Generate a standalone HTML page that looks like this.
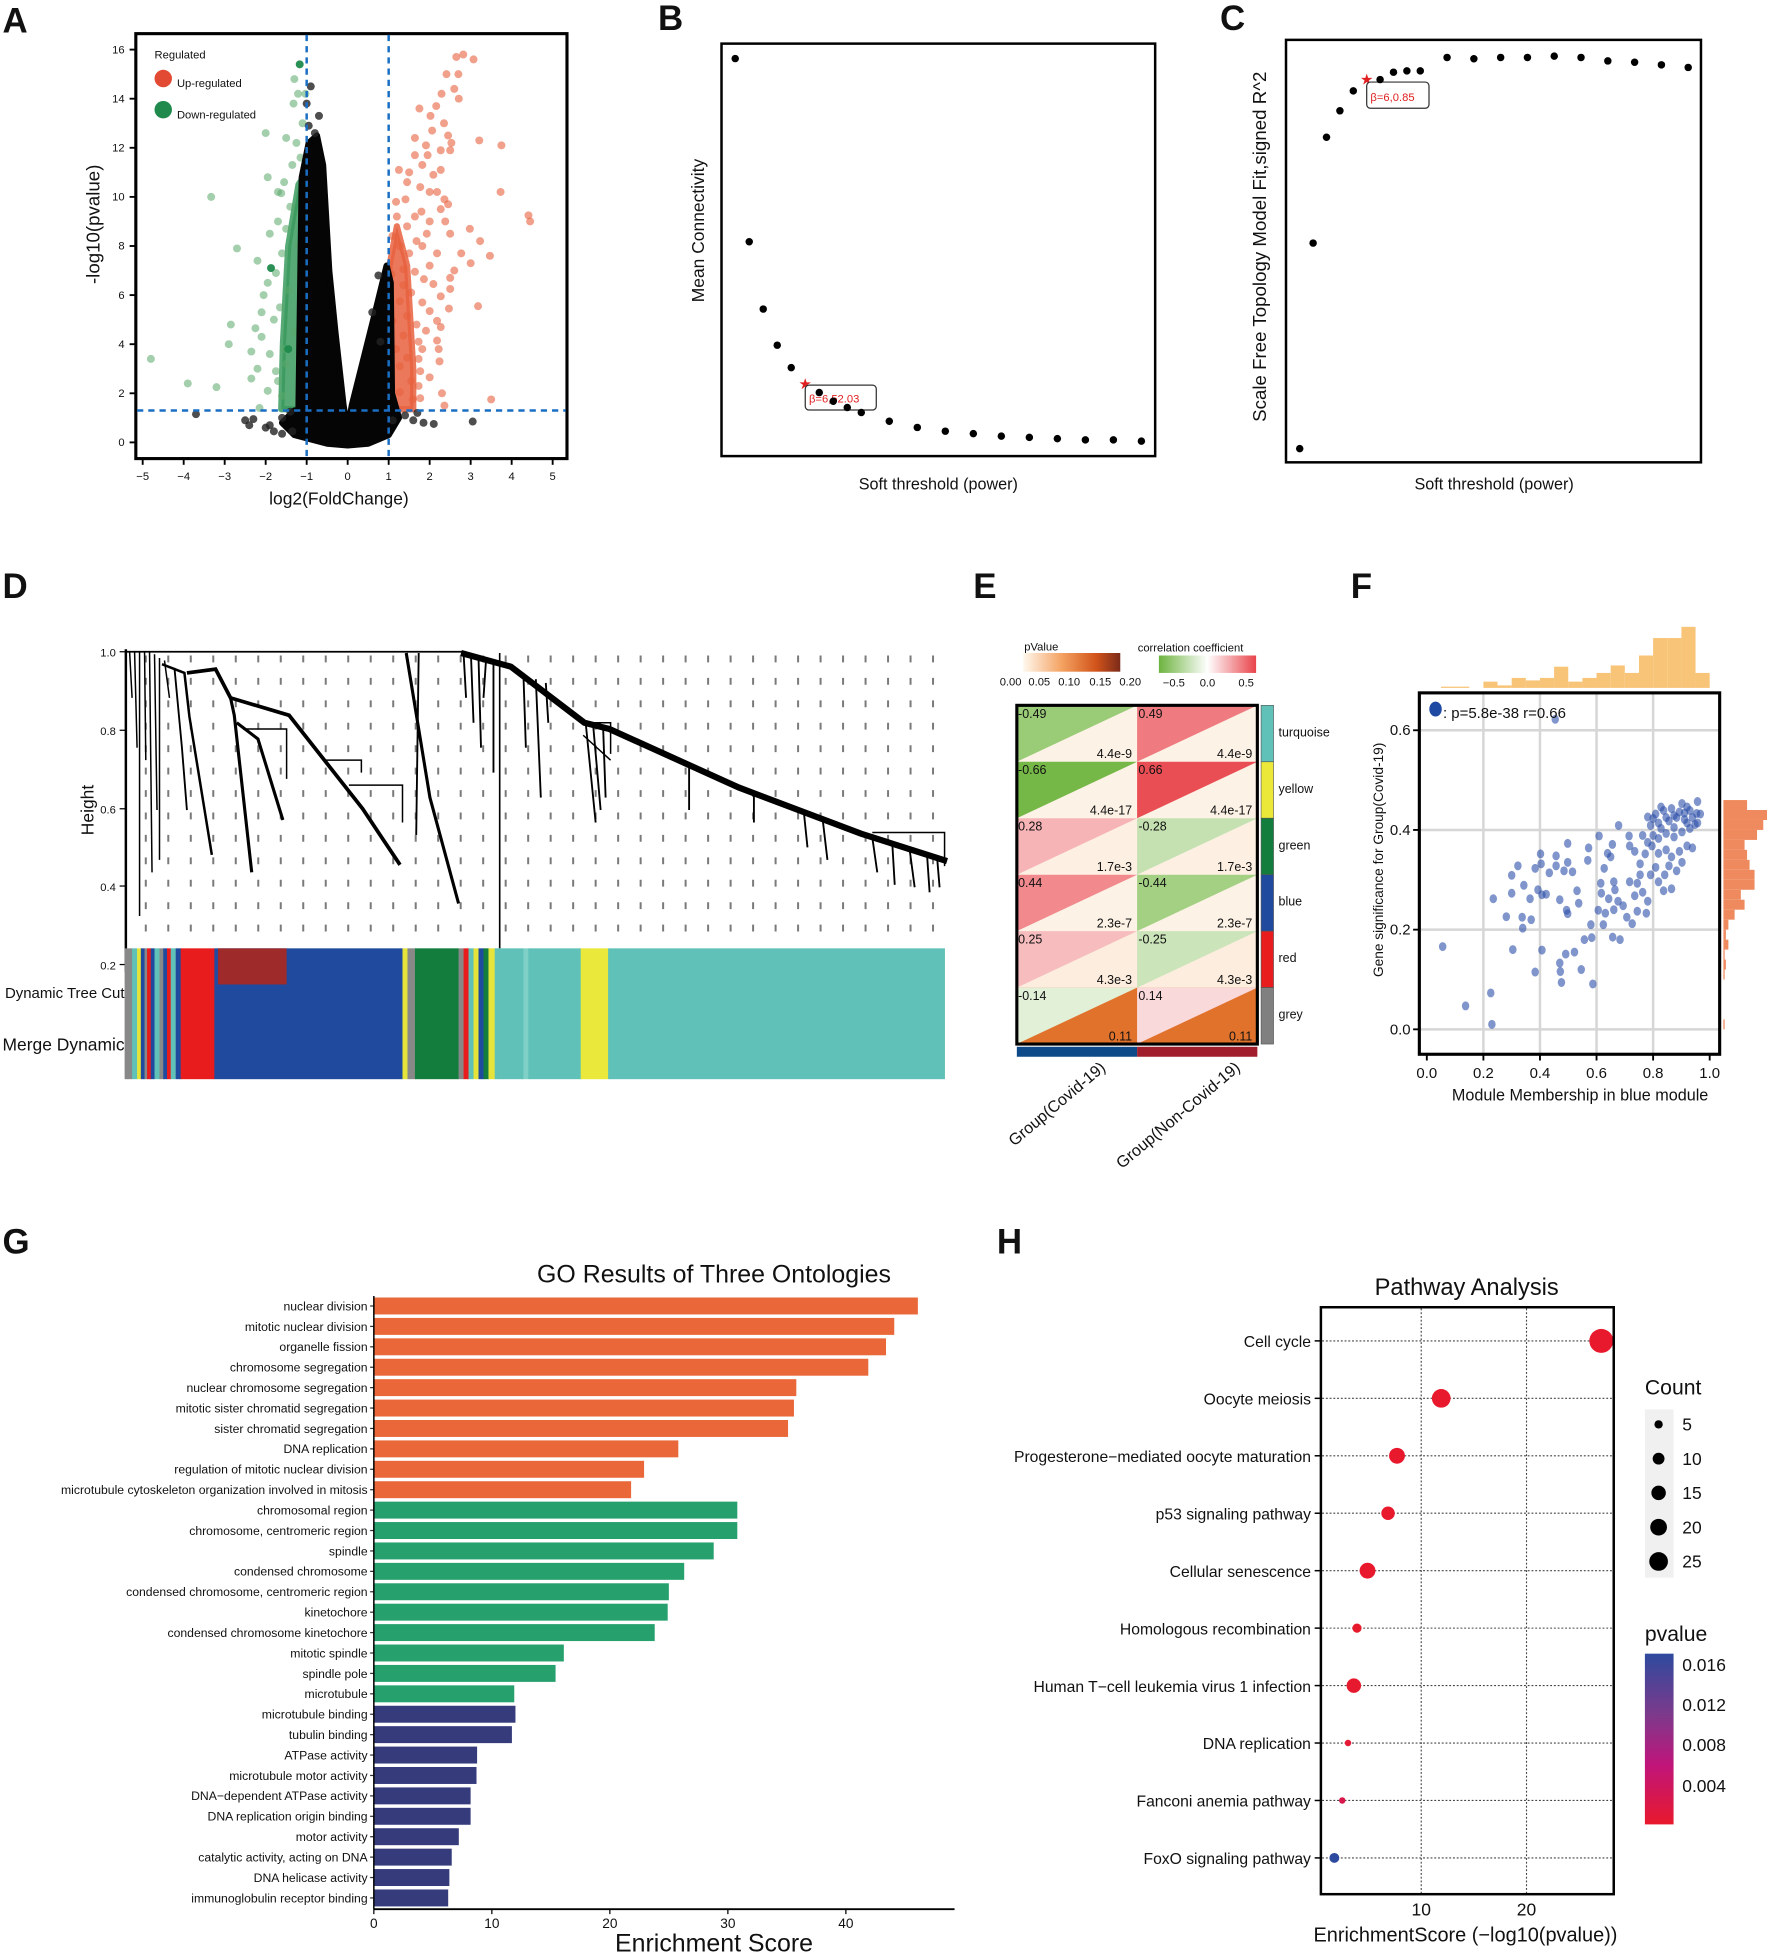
<!DOCTYPE html>
<html><head><meta charset="utf-8"><title>Figure</title>
<style>
html,body{margin:0;padding:0;background:#fff;}
svg{display:block;}
text{font-family:"Liberation Sans",sans-serif;fill:#111;}
.n{font-family:"Liberation Sans Narrow","Liberation Sans",sans-serif;}
.pl{font-weight:bold;font-size:28px;}
</style></head>
<body>
<svg id="fig" xmlns="http://www.w3.org/2000/svg" width="1772" height="1954" viewBox="0 0 1422 1568" preserveAspectRatio="none">
<rect x="0" y="0" width="1422" height="1568" fill="#fff"/>

<text class="pl" x="2" y="26">A</text>
<text class="pl" x="528" y="24">B</text>
<text class="pl" x="979" y="24">C</text>
<text class="pl" x="2" y="480">D</text>
<text class="pl" x="781" y="480">E</text>
<text class="pl" x="1084" y="480">F</text>
<text class="pl" x="2" y="1006">G</text>
<text class="pl" x="800" y="1006">H</text>

<g id="pa">
  <rect x="109" y="27" width="346" height="341" fill="none" stroke="#000" stroke-width="2.5"/>
  <text x="124" y="47" font-size="9">Regulated</text>
  <circle cx="131" cy="63" r="7" fill="#e24a33"/>
  <text x="142" y="70" font-size="9">Up-regulated</text>
  <circle cx="131" cy="88" r="7" fill="#1f8a4c"/>
  <text x="142" y="95" font-size="9">Down-regulated</text>
  <text x="272" y="405" font-size="14" text-anchor="middle">log2(FoldChange)</text>
  <text transform="translate(80,180) rotate(-90)" font-size="15" text-anchor="middle">-log10(pvalue)</text>
</g>

<g>
  <rect x="579" y="35" width="348" height="331" fill="none" stroke="#000" stroke-width="2"/>
  <text transform="translate(565,185) rotate(-90)" font-size="14" text-anchor="middle">Mean Connectivity</text>
  <text x="753" y="393" font-size="13" text-anchor="middle">Soft threshold (power)</text>
</g>
<g id="pb"></g>

<g>
  <rect x="1032" y="32" width="333" height="339" fill="none" stroke="#000" stroke-width="2"/>
  <text transform="translate(1016,198) rotate(-90)" font-size="15" text-anchor="middle">Scale Free Topology Model Fit,signed R^2</text>
  <text x="1199" y="393" font-size="13" text-anchor="middle">Soft threshold (power)</text>
</g>
<g id="pc"></g>

<g id="pd">
  <g id="dgrid" stroke="#7a7a7a" stroke-width="1.6" stroke-dasharray="5.5 12.5"></g>
  <line x1="101" y1="521" x2="101" y2="780" stroke="#000" stroke-width="2"/>
  <g stroke="#000" stroke-width="1">
    <line x1="96" y1="523" x2="101" y2="523"/><line x1="96" y1="586" x2="101" y2="586"/><line x1="96" y1="649" x2="101" y2="649"/><line x1="96" y1="711" x2="101" y2="711"/><line x1="96" y1="774" x2="101" y2="774"/>
  </g>
  <g font-size="9" text-anchor="end" class="n">
    <text x="93" y="527">1.0</text><text x="93" y="590">0.8</text><text x="93" y="653">0.6</text><text x="93" y="715">0.4</text><text x="93" y="778">0.2</text>
  </g>
  <text transform="translate(75,650) rotate(-90)" font-size="14" text-anchor="middle">Height</text>
  <g fill="none" stroke="#000">
    <line x1="101" y1="523" x2="371" y2="523" stroke-width="1.5"/>
    <path d="M101 523 L101 540 M104 523 L106 560 M108 523 L110 600 M112 523 L112 735 M116 523 L117 610 M120 523 L122 700 M124 525 L126 650 M128 528 L128 690 M132 530 L136 560" stroke-width="1.2"/>
    <path d="M130 533 L148 540 L152 575 L170 686" stroke-width="2"/>
    <path d="M140 536 L146 600 L150 650" stroke-width="1.5"/>
    <path d="M150 540 L173 537 L185 560 L232 574 L291 649 L321 694" stroke-width="3"/>
    <path d="M185 560 L188 574 L202 700" stroke-width="2.5"/>
    <path d="M190 580 L207 593 L227 658" stroke-width="2.5"/>
    <path d="M195 585 L230 585 L230 625" stroke-width="1.2"/>
    <path d="M260 610 L290 610 L290 620 M280 630 L323 630 L323 660" stroke-width="1.2"/>
    <path d="M326 524 L345 640 L368 725" stroke-width="2.5"/>
    <path d="M336 524 L334 670" stroke-width="1.5"/>
    <line x1="401" y1="524" x2="401" y2="761" stroke-width="1.3"/>
    <path d="M370 524 L410 535 L469 580 L489 585 L593 632 L691 669 L760 691" stroke-width="5"/>
    <path d="M372 524 L374 560 M378 527 L380 580 M384 528 L386 600 M390 530 L388 560 M396 532 L396 620 M420 540 L422 600 M430 545 L434 640 M438 548 L440 580 M470 580 L478 660 M476 582 L482 650 M484 584 L486 640 M553 615 L553 650 M605 636 L605 660 M645 651 L648 680 M660 656 L664 690 M700 672 L704 700 M716 676 L718 710 M730 682 L734 712 M744 687 L746 716 M752 688 L754 712" stroke-width="1.5"/>
    <path d="M470 580 L490 580 L490 605 M468 590 L490 610" stroke-width="1.2"/>
    <path d="M700 668 L758 668 L758 695" stroke-width="1.2"/>
  </g>
  <g id="dbars"></g>
  <text x="4" y="801" font-size="12" class="n">Dynamic Tree Cut</text>
  <text x="2" y="843" font-size="14" class="n">Merge Dynamic</text>
</g>

<defs>
  <linearGradient id="gp" x1="0" x2="1" y1="0" y2="0"><stop offset="0" stop-color="#fff8ee"/><stop offset="0.4" stop-color="#f4a261"/><stop offset="0.75" stop-color="#d2541a"/><stop offset="1" stop-color="#7b2a1a"/></linearGradient>
  <linearGradient id="gc" x1="0" x2="1" y1="0" y2="0"><stop offset="0" stop-color="#6db33f"/><stop offset="0.5" stop-color="#ffffff"/><stop offset="1" stop-color="#e8434a"/></linearGradient>
  <linearGradient id="gh" x1="0" x2="0" y1="0" y2="1"><stop offset="0" stop-color="#2e4a9e"/><stop offset="0.35" stop-color="#7b3a8c"/><stop offset="0.65" stop-color="#c0157a"/><stop offset="1" stop-color="#e8192c"/></linearGradient>
</defs>
<g>
  <text x="822" y="522" font-size="9">pValue</text>
  <rect x="821" y="524" width="78" height="15" fill="url(#gp)"/>
  <g font-size="9" text-anchor="middle" class="n">
    <text x="811" y="550">0.00</text><text x="834" y="550">0.05</text><text x="858" y="550">0.10</text><text x="883" y="550">0.15</text><text x="907" y="550">0.20</text>
  </g>
  <text x="913" y="523" font-size="9">correlation coefficient</text>
  <rect x="930" y="526" width="78" height="14" fill="url(#gc)"/>
  <g font-size="9" text-anchor="middle" class="n">
    <text x="942" y="551">−0.5</text><text x="969" y="551">0.0</text><text x="1000" y="551">0.5</text>
  </g>
  <g id="pe"></g>
  <text transform="translate(888,858) rotate(-40)" font-size="13" text-anchor="end">Group(Covid-19)</text>
  <text transform="translate(996,858) rotate(-40)" font-size="13" text-anchor="end">Group(Non-Covid-19)</text>
</g>

<g>
  <g id="pf"></g>
  <rect x="1139" y="556" width="241" height="290" fill="none" stroke="#000" stroke-width="2.5"/>
  <ellipse cx="1152" cy="569" rx="5" ry="6" fill="#1f4aa3"/>
  <text x="1158" y="576" font-size="12" class="n">: p=5.8e-38 r=0.66</text>
  <text transform="translate(1110,690) rotate(-90)" font-size="11" text-anchor="middle">Gene significance for Group(Covid-19)</text>
  <text x="1268" y="883" font-size="13" text-anchor="middle" class="n">Module Membership in blue module</text>
</g>

<g>
  <text x="573" y="1029" font-size="20" text-anchor="middle">GO Results of Three Ontologies</text>
  <g id="pg"></g>
  <line x1="300" y1="1040" x2="300" y2="1532" stroke="#000" stroke-width="1.2"/>
  <line x1="300" y1="1532" x2="766" y2="1532" stroke="#000" stroke-width="1.5"/>
  <text x="573" y="1566" font-size="20" text-anchor="middle">Enrichment Score</text>
</g>

<g>
  <text x="1177" y="1039" font-size="19" text-anchor="middle" class="n">Pathway Analysis</text>
  <g id="ph"></g>
  <rect x="1060" y="1049" width="235" height="471" fill="none" stroke="#000" stroke-width="2"/>
  <text x="1176" y="1558" font-size="16" text-anchor="middle" class="n">EnrichmentScore (−log10(pvalue))</text>
  <text x="1320" y="1119" font-size="17" class="n">Count</text>
  <rect x="1320" y="1131" width="23" height="135" fill="#f0f0f0"/>
  <g id="hleg"></g>
  <text x="1320" y="1317" font-size="17" class="n">pvalue</text>
  <rect x="1320" y="1327" width="23" height="137" fill="url(#gh)"/>
  <g font-size="14" class="n">
    <text x="1350" y="1341">0.016</text><text x="1350" y="1373">0.012</text><text x="1350" y="1405">0.008</text><text x="1350" y="1438">0.004</text>
  </g>
</g>
</svg>

<script>
const NS='http://www.w3.org/2000/svg';
function mk(tag, attrs, parent){const e=document.createElementNS(NS,tag);for(const k in attrs)e.setAttribute(k,attrs[k]);parent.appendChild(e);return e;}

/* ---------- Panel A data ---------- */
const upFC=[2.82,3.07,2.65,2.41,2.7,2.6,2.29,2.71,2.16,1.75,2.02,2.35,2.06,2.45,3.21,3.75,1.64,1.91,2.53,2.27,2.5,1.64,1.95,1.82,2.27,1.25,1.5,2.09,1.45,1.77,2.0,2.18,3.73,1.18,1.41,2.36,2.27,2.45,1.8,1.2,1.64,4.41,4.45,2.0,2.38,1.45,2.98,1.93,2.5,1.09,1.68,3.23,1.27,1.82,1.5,2.18,2.77,3.47,3.0,2.0,1.36,1.64,2.6,1.07,1.86,2.5,1.36,2.09,2.5,1.55,2.27,1.27,1.82,3.18,2.0,2.47,1.45,1.09,1.68,2.18,1.91,2.27,1.36,1.73,2.18,1.18,1.82,2.22,1.45,1.73,2.24,1.27,1.77,2.0,1.55,1.73,1.27,2.3,1.59,1.77,2.36,3.5,1.09];
const upP=[15.8,15.6,15.7,15.0,15.0,14.4,14.2,14.0,13.7,13.6,13.3,13.0,12.7,12.5,12.3,12.1,12.4,12.1,12.2,11.9,11.9,11.7,11.7,11.3,11.1,11.1,11.0,10.9,10.6,10.4,10.2,10.2,10.2,9.8,9.9,9.9,9.5,9.7,9.4,9.2,9.2,9.25,9.0,9.0,9.0,8.8,8.7,8.5,8.5,8.4,8.2,8.2,8.0,8.0,7.7,7.7,7.7,7.6,7.3,7.2,7.05,6.95,7.0,6.85,6.65,6.7,6.4,6.45,6.25,6.1,5.95,5.75,5.7,5.55,5.35,5.45,5.15,4.95,4.8,4.95,4.55,4.7,4.35,4.1,4.15,3.8,3.8,3.8,3.45,3.4,3.3,3.1,2.9,2.65,2.5,2.3,2.05,2.0,1.75,1.8,1.5,1.75,1.6];
const downFC=[-1.3,-1.21,-1.03,-1.32,-1.1,-2.0,-1.5,-1.25,-1.15,-1.35,-1.95,-1.55,-1.7,-3.33,-1.62,-1.4,-1.7,-1.5,-1.9,-2.7,-1.6,-2.2,-1.75,-1.95,-2.05,-1.65,-2.1,-1.8,-2.85,-2.25,-2.1,-2.9,-1.55,-2.35,-1.9,-4.8,-2.2,-1.75,-2.35,-1.7,-3.9,-3.2,-1.95,-1.6,-2.15,-1.45,-1.3,-1.5,-1.2];
const downP=[14.8,14.2,14.2,13.8,13.0,12.6,12.4,12.2,11.6,11.3,10.8,10.6,10.2,10.0,10.15,9.6,9.0,8.7,8.5,7.9,7.7,7.4,6.9,6.5,6.0,5.5,5.3,5.0,4.8,4.65,4.3,4.0,3.8,3.7,3.6,3.4,3.0,2.9,2.6,2.5,2.4,2.25,2.1,1.9,1.4,6.2,4.5,3.2,8.0];
const downDarkFC=[-1.17,-1.87,-1.45];
const downDarkP=[15.4,7.1,3.8];
const nsFC=[-3.7,-2.5,-2.4,-2.3,-1.9,-1.6,-1.35,-1.6,-1.4,-0.9,-1.0,-0.7,-0.95,-0.8,1.1,1.4,1.6,1.85,2.1,3.05,1.7,0.75,0.6,0.8,-2.0,-1.8];
const nsP=[1.15,0.9,0.7,0.95,0.7,0.35,0.45,1.0,1.25,14.5,13.8,13.3,12.9,12.6,0.9,1.1,0.9,0.8,0.75,0.85,1.2,6.8,5.3,4.1,0.6,0.45];
const nsMass=[[-1.2,1.3],[-1.12,10.8],[-0.95,12.2],[-0.75,12.5],[-0.6,11.3],[-0.45,7],[-0.3,4.5],[-0.1,1.5],[0,0.5],[0.1,1.5],[0.4,3.5],[0.7,5.5],[0.95,7.2],[1.05,6.5],[1.08,2],[1.25,1.0],[1.0,0.3],[0.5,-0.05],[0,-0.12],[-0.5,-0.05],[-1.3,0.3],[-1.6,0.8],[-1.3,1.3]];
const upMass=[[1.02,1.35],[1.02,7.2],[1.2,8.8],[1.45,7.2],[1.6,3],[1.6,1.35]];
const downMass=[[-1.0,1.35],[-1.0,11],[-1.2,10.5],[-1.45,8],[-1.58,4],[-1.62,1.35]];
const aXTicks=[-5,-4,-3,-2,-1,0,1,2,3,4,5];
const aYTicks=[0,2,4,6,8,10,12,14,16];
const aFCcut=1, aPcut=1.3;
const ax=v=>279+v*32.9, ay=v=>355-v*19.7;
(function(){
  const g=document.getElementById('pa');
  aXTicks.forEach(t=>{
    const l=mk('line',{x1:ax(t),x2:ax(t),y1:368,y2:373,stroke:'#000','stroke-width':1.5},g);
    
    
    const tx=mk('text',{x:ax(t),y:385,'font-size':9,'text-anchor':'middle',class:'n'},g);tx.textContent=(t<0?'−':'')+Math.abs(t);
    
    
  });
  aYTicks.forEach(t=>{
    const l=mk('line',{x1:104,x2:109,y1:ay(t),y2:ay(t),stroke:'#000','stroke-width':1.5},g);
    
    
    const tx=mk('text',{x:100,y:ay(t)+3,'font-size':9,'text-anchor':'end',class:'n'},g);tx.textContent=t;
    
    
  });
  const poly=(pts,fill,op,name)=>{const p=mk('polygon',{points:pts.map(q=>ax(q[0])+','+ay(q[1])).join(' '),fill:fill,'fill-opacity':op,stroke:fill,'stroke-width':5,'stroke-linejoin':'round','stroke-opacity':op},g);
    
    };
  poly(downMass,'#3a9a5e',0.85,'down-dense-region');
  poly(upMass,'#e8603e',0.85,'up-dense-region');
  const dots=(xs,ys,fill,op,name)=>xs.forEach((v,i)=>{const c=mk('circle',{cx:ax(v),cy:ay(ys[i]),r:3.2,fill:fill,'fill-opacity':op},g);
    
    });
  dots(downFC,downP,'#5aa86a',0.55,'down-point');
  dots(upFC,upP,'#e8603e',0.6,'up-point');
  dots(downDarkFC,downDarkP,'#1f8a4c',0.95,'down-point');
  poly(nsMass,'#050505',1,'nonsig-dense-region');
  dots(nsFC,nsP,'#222',0.8,'nonsig-point');
  [-aFCcut,aFCcut].forEach(v=>{const l=mk('line',{x1:ax(v),x2:ax(v),y1:28,y2:367,stroke:'#1a6fc4','stroke-width':2,'stroke-dasharray':'5 4'},g);
    
    });
  const h=mk('line',{x1:110,x2:454,y1:ay(aPcut),y2:ay(aPcut),stroke:'#1a6fc4','stroke-width':2,'stroke-dasharray':'5 4'},g);
  
  
})();

/* ---------- Panel B / C data ---------- */
const powers=[1,2,3,4,5,6,7,8,9,10,12,14,16,18,20,22,24,26,28,30];
const meanK=[313,166,112,83,65,52,45,38,33,29,22,17,14,12,10,9,8,7,7,6];
const r2=[0,0.474,0.718,0.779,0.825,0.851,0.851,0.868,0.871,0.871,0.902,0.899,0.902,0.902,0.905,0.902,0.894,0.891,0.885,0.879];
const chosenPower=6;
(function(){
  const g=document.getElementById('pb');
  const bx=p=>590+(p-1)*11.24, by=k=>360-k;
  powers.forEach((p,i)=>{
    if(p===chosenPower){
      const s=mk('text',{x:bx(p),y:by(meanK[i])+4,'font-size':12,'text-anchor':'middle'},g);s.textContent='★';s.style.fill='#e02020';
      
      
      const r=mk('rect',{x:bx(p),y:by(meanK[i])+1,width:57,height:20,rx:3,fill:'#fff',stroke:'#333','stroke-width':1},g);
      
      
      const t=mk('text',{x:bx(p)+3,y:by(meanK[i])+15,'font-size':9},g);t.textContent='β='+p+','+meanK[i]+'.03';t.style.fill='#e02020';
      
      
    } else {
      const c=mk('circle',{cx:bx(p),cy:by(meanK[i]),r:3,fill:'#000'},g);
      
      
    }
  });
  const gc=document.getElementById('pc');
  const cx=p=>1043+(p-1)*10.75, cy=v=>360-v*348;
  powers.forEach((p,i)=>{
    if(p===chosenPower){
      const s=mk('text',{x:cx(p),y:cy(r2[i])+4,'font-size':12,'text-anchor':'middle'},gc);s.textContent='★';s.style.fill='#e02020';
      
      
      const r=mk('rect',{x:cx(p),y:cy(r2[i])+2,width:50,height:21,rx:3,fill:'#fff',stroke:'#333','stroke-width':1},gc);
      
      
      const t=mk('text',{x:cx(p)+3,y:cy(r2[i])+17,'font-size':9},gc);t.textContent='β='+p+','+r2[i].toFixed(2);t.style.fill='#e02020';
      
      
    } else {
      const c=mk('circle',{cx:cx(p),cy:cy(r2[i]),r:3,fill:'#000'},gc);
      
      
    }
  });
})();

/* ---------- Panel D ---------- */
const modSegStart=[100,106,110,113,116,118,121,124,128,131,134,137,141,145,172,323,327,333,368,372,376,380,384,388,392,397,400,420,424,466,488];
const modSegColor=['#888','#5fc1b7','#e6e43a','#1f4a9e','#888','#e81c1c','#1f4a9e','#5fc1b7','#888','#1f4a9e','#e81c1c','#5fc1b7','#1f4a9e','#e81c1c','#1f4a9e','#e6e43a','#888','#137d3d','#888','#e81c1c','#5fc1b7','#e6e43a','#1f4a9e','#137d3d','#e6e43a','#5fc1b7','#5fc1b7','#7fd0c6','#5fc1b7','#eae83a','#5fc1b7'];
(function(){
  const gg=document.getElementById('dgrid');
  for(let x=117;x<=750;x+=18.05){
    const l=mk('line',{x1:x,x2:x,y1:526,y2:750},gg);
    
    
  }
  const g=document.getElementById('dbars');
  modSegStart.forEach((s,i)=>{
    const e=(i+1<modSegStart.length)?modSegStart[i+1]:758;
    const r=mk('rect',{x:s,y:761,width:e-s+0.3,height:105,fill:modSegColor[i]},g);
    
    
  });
  const dr=mk('rect',{x:175,y:761,width:55,height:29,fill:'#9e2a2a'},g);
  
  
})();

/* ---------- Panel E ---------- */
const modules=['turquoise','yellow','green','blue','red','grey'];
const moduleColors=['#5fc1b7','#ece83a','#137d3d','#1f4a9e','#e81c1c','#808080'];
const corrCovid=[-0.49,-0.66,0.28,0.44,0.25,-0.14];
const pvals=['4.4e-9','4.4e-17','1.7e-3','2.3e-7','4.3e-3','0.11'];
const pnum=[4.4e-9,4.4e-17,1.7e-3,2.3e-7,4.3e-3,0.11];
(function(){
  const g=document.getElementById('pe');
  const x0=816, cw=96.5, y0=566, rh=45.3;
  const mix=(a,b,t)=>a.map((v,i)=>Math.round(v+(b[i]-v)*t));
  const corrCol=r=>{const t=Math.min(1,Math.abs(r)/0.7);const c=r<0?mix([255,255,255],[110,180,60],t):mix([255,255,255],[232,67,74],t);return 'rgb('+c.join(',')+')';};
  const pCol=p=>{const t=Math.min(1,p/0.2);const c=t<0.5?mix([253,242,230],[236,122,46],t*2):mix([236,122,46],[123,42,26],(t-0.5)*2);return 'rgb('+c.join(',')+')';};
  modules.forEach((m,i)=>{
    [corrCovid[i],-corrCovid[i]].forEach((r,j)=>{
      const x=x0+j*cw, y=y0+i*rh;
      const bg=mk('rect',{x:x,y:y,width:cw,height:rh,fill:pCol(pnum[i])},g);
      
      
      const tr=mk('polygon',{points:`${x},${y} ${x+cw},${y} ${x},${y+rh}`,fill:corrCol(r)},g);
      
      
      const t1=mk('text',{x:x+1,y:y+10,'font-size':10,class:'n'},g);t1.textContent=(r>0?'':'-')+Math.abs(r).toFixed(2);
      
      
      const t2=mk('text',{x:x+cw-4,y:y+rh-3,'font-size':10,'text-anchor':'end',class:'n'},g);t2.textContent=pvals[i];
      
      
    });
    const s=mk('rect',{x:1012,y:y0+i*rh,width:10,height:rh,fill:moduleColors[i],stroke:'#555','stroke-width':0.5},g);
    
    
    const lt=mk('text',{x:1026,y:y0+i*rh+rh*0.55,'font-size':10,class:'n'},g);lt.textContent=m;
    
    
  });
  const fr=mk('rect',{x:x0,y:y0,width:2*cw,height:6*rh,fill:'none',stroke:'#000','stroke-width':2.5},g);
  
  
  const b1=mk('rect',{x:x0,y:840,width:cw,height:8,fill:'#0e4a8a'},g);
  
  
  const b2=mk('rect',{x:x0+cw,y:840,width:cw,height:8,fill:'#a11f2c'},g);
  
  
})();

/* ---------- Panel F ---------- */
const mm=[.056,.137,.23,.226,.304,.383,.407,.47,.472,.476,.491,.522,.546,.587,.557,.583,.657,.683,.235,.281,.339,.337,.369,.3,.3,.322,.343,.365,.393,.407,.422,.383,.404,.402,.433,.457,.457,.485,.498,.515,.47,.498,.494,.531,.537,.498,.572,.569,.609,.627,.639,.65,.656,.678,.715,.615,.661,.665,.617,.643,.676,.694,.707,.726,.631,.624,.58,.606,.661,.744,.776,.735,.763,.781,.744,.717,.754,.791,.819,.837,.865,.809,.841,.856,.883,.902,.754,.772,.796,.819,.846,.865,.893,.92,.939,.735,.717,.763,.8,.828,.846,.874,.902,.93,.957,.967,.957,.92,.893,.865,.837,.809,.781,.791,.819,.856,.883,.911,.939,.911,.874,.846,.92,.948,.902,.93,.954,.828,.8,.819,.781,.874,.454];
const gsv=[.166,.047,.01,.073,.16,.115,.159,.133,.116,.094,.151,.155,.12,.091,.18,.184,.185,.18,.262,.226,.203,.225,.22,.273,.309,.328,.289,.262,.28,.27,.271,.323,.332,.352,.314,.328,.348,.318,.335,.316,.26,.232,.239,.278,.253,.373,.364,.339,.388,.323,.353,.346,.371,.409,.388,.293,.296,.28,.273,.262,.257,.248,.225,.212,.233,.21,.21,.239,.24,.237,.233,.268,.275,.257,.293,.296,.31,.31,.296,.278,.282,.325,.31,.328,.318,.335,.332,.352,.368,.353,.36,.346,.357,.368,.364,.357,.368,.389,.389,.403,.393,.386,.396,.403,.414,.432,.457,.446,.436,.443,.439,.432,.426,.409,.414,.418,.425,.421,.425,.434,.429,.425,.414,.411,.453,.439,.433,.446,.423,.383,.375,.405,.622];
const topHistBins=[0.05,0.1,0.15,0.2,0.25,0.3,0.35,0.4,0.45,0.5,0.55,0.6,0.65,0.7,0.75,0.8,0.85,0.9,0.95];
const topHistCounts=[1,1,0,5,2,8,6,8,17,5,8,12,18,12,26,40,40,49,12];
const rightHistBins=[0.44,0.42,0.40,0.38,0.36,0.34,0.32,0.30,0.28,0.26,0.24,0.22,0.20,0.18,0.16,0.14,0.12,0.10,0.08,0.06,0.04,0.02,0.0];
const rightHistCounts=[19,35,32,27,17,19,21,25,25,14,17,9,4,2,4,1,2,1,0,0,0,0,1];
const fXTicks=[0,0.2,0.4,0.6,0.8,1.0];
const fYTicks=[0,0.2,0.4,0.6];
(function(){
  const g=document.getElementById('pf');
  const fx=v=>1145+v*227, fy=v=>826-v*400;
  fXTicks.forEach(t=>{
    if(t>0&&t<1){const l=mk('line',{x1:fx(t),x2:fx(t),y1:557,y2:845,stroke:'#d6d6d6','stroke-width':2},g);
      
      }
    const tk=mk('line',{x1:fx(t),x2:fx(t),y1:846,y2:851,stroke:'#000','stroke-width':1.5},g);
    
    
    const tx=mk('text',{x:fx(t),y:865,'font-size':12,'text-anchor':'middle',class:'n'},g);tx.textContent=t.toFixed(1);
    
    
  });
  fYTicks.forEach(t=>{
    const l=mk('line',{x1:1140,x2:1380,y1:fy(t),y2:fy(t),stroke:'#d6d6d6','stroke-width':2},g);
    
    
    const tk=mk('line',{x1:1134,x2:1139,y1:fy(t),y2:fy(t),stroke:'#000','stroke-width':1.5},g);
    
    
    const tx=mk('text',{x:1132,y:fy(t)+4,'font-size':12,'text-anchor':'end',class:'n'},g);tx.textContent=t.toFixed(1);
    
    
  });
  topHistBins.forEach((b,i)=>{
    const r=mk('rect',{x:fx(b),y:552-topHistCounts[i],width:0.05*227,height:topHistCounts[i],fill:'#f8c477'},g);
    
    
  });
  rightHistBins.forEach((b,i)=>{
    const r=mk('rect',{x:1383,y:fy(b+0.02),width:rightHistCounts[i],height:0.02*400,fill:'#ef8a5e'},g);
    
    
  });
  mm.forEach((v,i)=>{
    const c=mk('ellipse',{cx:fx(v),cy:fy(gsv[i]),rx:3,ry:3.6,fill:'#2c4ea8','fill-opacity':0.6},g);
    
    
  });
})();

/* ---------- Panel G ---------- */
const goTerms=['nuclear division','mitotic nuclear division','organelle fission','chromosome segregation','nuclear chromosome segregation','mitotic sister chromatid segregation','sister chromatid segregation','DNA replication','regulation of mitotic nuclear division','microtubule cytoskeleton organization involved in mitosis','chromosomal region','chromosome, centromeric region','spindle','condensed chromosome','condensed chromosome, centromeric region','kinetochore','condensed chromosome kinetochore','mitotic spindle','spindle pole','microtubule','microtubule binding','tubulin binding','ATPase activity','microtubule motor activity','DNA−dependent ATPase activity','DNA replication origin binding','motor activity','catalytic activity, acting on DNA','DNA helicase activity','immunoglobulin receptor binding'];
const goScores=[46.1,44.1,43.4,41.9,35.8,35.6,35.1,25.8,22.9,21.8,30.8,30.8,28.8,26.3,25.0,24.9,23.8,16.1,15.4,11.9,12.0,11.7,8.75,8.7,8.2,8.2,7.2,6.6,6.4,6.3];
const goOntology=['BP','BP','BP','BP','BP','BP','BP','BP','BP','BP','CC','CC','CC','CC','CC','CC','CC','CC','CC','CC','MF','MF','MF','MF','MF','MF','MF','MF','MF','MF'];
const gXTicks=[0,10,20,30,40];
(function(){
  const g=document.getElementById('pg');
  const gx=v=>300+v*9.47, gy=i=>1048+i*16.38;
  const col={BP:'#ea6739',CC:'#26a06d',MF:'#353b7b'};
  goTerms.forEach((t,i)=>{
    const r=mk('rect',{x:gx(0),y:gy(i)-6.8,width:gx(goScores[i])-gx(0),height:13.6,fill:col[goOntology[i]]},g);
    
    
    const tk=mk('line',{x1:297,x2:300,y1:gy(i),y2:gy(i),stroke:'#333','stroke-width':1},g);
    
    
    const tx=mk('text',{x:295,y:gy(i)+3.5,'font-size':9.8,'text-anchor':'end',class:'n'},g);tx.textContent=t;
    
    
  });
  gXTicks.forEach(t=>{
    const tk=mk('line',{x1:gx(t),x2:gx(t),y1:1532,y2:1536,stroke:'#000','stroke-width':1},g);
    
    
    const tx=mk('text',{x:gx(t),y:1547,'font-size':11,'text-anchor':'middle',class:'n'},g);tx.textContent=t;
    
    
  });
})();

/* ---------- Panel H ---------- */
const pathways=['Cell cycle','Oocyte meiosis','Progesterone−mediated oocyte maturation','p53 signaling pathway','Cellular senescence','Homologous recombination','Human T−cell leukemia virus 1 infection','DNA replication','Fanconi anemia pathway','FoxO signaling pathway'];
const pathScores=[27.1,11.9,7.7,6.85,4.9,3.9,3.6,3.05,2.5,1.75];
const pathCounts=[41,25,18,13,18,6,15,3,3,7];
const hXTicks=[10,20];
const countLegend=[5,10,15,20,25];
(function(){
  const g=document.getElementById('ph');
  const hx=v=>1056+v*8.45, hy=i=>1076+i*46.1;
  const rad=c=>1.5*Math.sqrt(c);
  const mix=(a,b,t)=>a.map((v,i)=>Math.round(v+(b[i]-v)*t));
  const pc=p=>{const t=Math.min(1,Math.max(0,p/0.016));const c=t<0.5?mix([232,25,44],[192,21,122],t*2):mix([192,21,122],[46,74,158],(t-0.5)*2);return 'rgb('+c.join(',')+')';};
  hXTicks.forEach(t=>{
    const l=mk('line',{x1:hx(t),x2:hx(t),y1:1050,y2:1519,stroke:'#444','stroke-width':0.9,'stroke-dasharray':'1.5 1.5'},g);
    
    
    const tx=mk('text',{x:hx(t),y:1537,'font-size':14,'text-anchor':'middle',class:'n'},g);tx.textContent=t;
    
    
  });
  pathways.forEach((p,i)=>{
    const l=mk('line',{x1:1061,x2:1294,y1:hy(i),y2:hy(i),stroke:'#444','stroke-width':0.9,'stroke-dasharray':'1.5 1.5'},g);
    
    
    const tk=mk('line',{x1:1055,x2:1060,y1:hy(i),y2:hy(i),stroke:'#000','stroke-width':1.2},g);
    
    
    const tx=mk('text',{x:1052,y:hy(i)+5,'font-size':12.6,'text-anchor':'end',class:'n'},g);tx.textContent=p;
    
    
    const pv=Math.pow(10,-pathScores[i]);
    const c=mk('circle',{cx:hx(pathScores[i]),cy:hy(i),r:rad(pathCounts[i]),fill:pc(pv)},g);
    
    
  });
  const lg=document.getElementById('hleg');
  countLegend.forEach((c,i)=>{
    const y=1143+i*27.5;
    const e=mk('circle',{cx:1331,cy:y,r:rad(c),fill:'#000'},lg);
    
    
    const t=mk('text',{x:1350,y:y+5,'font-size':14,class:'n'},lg);t.textContent=c;
    
    
  });
})();
</script>
</body></html>
